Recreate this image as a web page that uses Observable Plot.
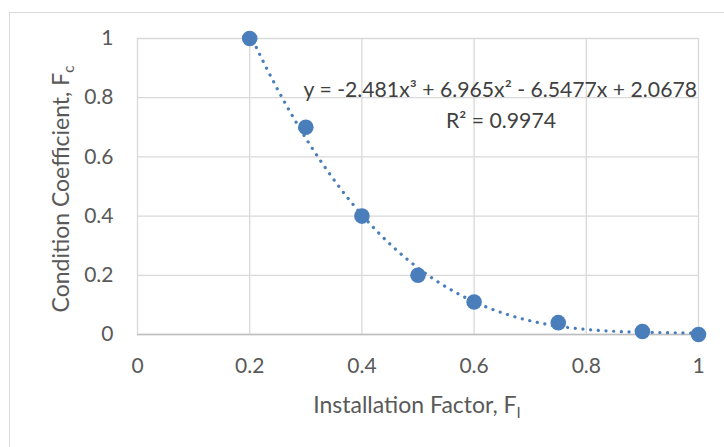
<!DOCTYPE html>
<html>
<head>
<meta charset="utf-8">
<script src="https://cdn.jsdelivr.net/npm/d3@7"></script>
<script src="https://cdn.jsdelivr.net/npm/@observablehq/plot@0.6"></script>
<style>
  html, body { margin: 0; padding: 0; background: #fff; }
  #chart { position: relative; width: 724px; height: 447px; overflow: hidden; }
</style>
</head>
<body>
<div id="chart"></div>
<script>
// Data
const installationFactor = [0.2, 0.3, 0.4, 0.5, 0.6, 0.75, 0.9, 1.0];
const conditionCoefficient = [1.0, 0.7, 0.4, 0.2, 0.11, 0.04, 0.01, 0.0];
// Excel polynomial (order 3) trendline coefficients as printed: a3, a2, a1, a0
const trendCoefficients = [-2.481, 6.965, -6.5477, 2.0678];
const trendLabel = "y = -2.481x³ + 6.965x² - 6.5477x + 2.0678";
const r2Label = "R² = 0.9974";
const xTicks = [0, 0.2, 0.4, 0.6, 0.8, 1];
const yTicks = [0, 0.2, 0.4, 0.6, 0.8, 1];

const points = installationFactor.map((x, i) => ({x, y: conditionCoefficient[i]}));
const [a3, a2, a1, a0] = trendCoefficients;
const xMin = d3.min(installationFactor), xMax = d3.max(installationFactor);
const trend = d3.range(0, 201).map(i => {
  const x = xMin + (xMax - xMin) * i / 200;
  return {x, y: a3 * x ** 3 + a2 * x ** 2 + a1 * x + a0};
});

const blue = "#4a7ebb";
const font = "Lato, 'Open Sans', sans-serif";

const plot = Plot.plot({
  width: 724,
  height: 447,
  marginLeft: 137,
  marginRight: 26,
  marginTop: 38,
  marginBottom: 113,
  style: {fontFamily: font, fontSize: "21px", color: "#595959", background: "transparent"},
  x: {domain: [0, 1], ticks: xTicks, tickFormat: d => String(d), label: null},
  y: {domain: [0, 1], ticks: yTicks, tickFormat: d => String(d), label: null},
  marks: [
    Plot.gridX(xTicks, {stroke: "#d9d9d9", strokeOpacity: 1, strokeWidth: 1.3}),
    Plot.gridY(yTicks, {stroke: "#d9d9d9", strokeOpacity: 1, strokeWidth: 1.3}),
    Plot.ruleY([0], {stroke: "#bfbfbf", strokeWidth: 1.5}),
    Plot.axisX({ticks: xTicks, tickFormat: d => String(d), tickSize: 0, tickPadding: 24, label: null, fill: "#595959"}),
    Plot.axisY({ticks: yTicks, tickFormat: d => String(d), tickSize: 0, tickPadding: 24, label: null, fill: "#595959"}),
    Plot.line(trend, {x: "x", y: "y", stroke: blue, strokeWidth: 3.2, strokeDasharray: "0.1 7.6", strokeLinecap: "round", curve: "linear"}),
    Plot.dot(points, {x: "x", y: "y", r: 7.8, fill: blue, stroke: "none"})
  ]
});
document.getElementById("chart").appendChild(plot);

const svg = d3.select(plot);
svg.insert("rect", ":first-child")
  .attr("x", 9.5).attr("y", 12.5).attr("width", 800).attr("height", 600)
  .attr("fill", "#fff").attr("stroke", "#d9d9d9").attr("stroke-width", 1);

// Trendline label
svg.append("text")
  .attr("x", 697).attr("y", 97)
  .attr("text-anchor", "end")
  .attr("font-family", font).attr("font-size", 21.2).attr("fill", "#404040")
  .text(trendLabel);
svg.append("text")
  .attr("x", 501).attr("y", 128)
  .attr("text-anchor", "middle")
  .attr("font-family", font).attr("font-size", 21.2).attr("fill", "#404040")
  .text(r2Label);

// X axis title
const xt = svg.append("text")
  .attr("x", 417).attr("y", 413)
  .attr("text-anchor", "middle")
  .attr("font-family", font).attr("font-size", 23).attr("fill", "#595959");
xt.append("tspan").text("Installation Factor, F");
xt.append("tspan").attr("font-size", 15).attr("dy", 5).text("I");

// Y axis title
const yt = svg.append("text")
  .attr("transform", "translate(69,189) rotate(-90)")
  .attr("text-anchor", "middle")
  .attr("font-family", font).attr("font-size", 23).attr("fill", "#595959");
yt.append("tspan").text("Condition Coefficient, F");
yt.append("tspan").attr("font-size", 15).attr("dy", 5).text("c");
</script>
</body>
</html>
